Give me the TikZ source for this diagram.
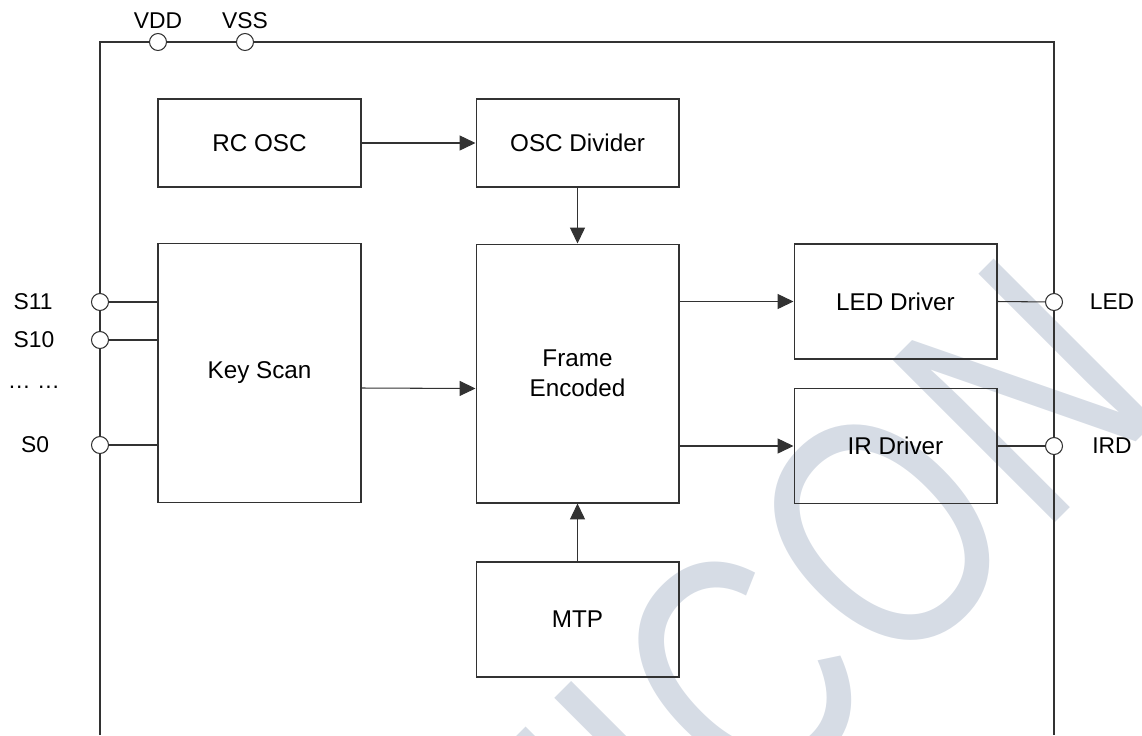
\documentclass[tikz,border=0pt]{standalone}
\usepackage{fontspec}
\setmainfont{Liberation Sans}
\usepackage{graphicx}
\usetikzlibrary{arrows.meta}
\definecolor{wmColor}{RGB}{214,220,229}
\definecolor{lineColor}{RGB}{50,50,50}

\begin{document}
\begin{tikzpicture}[x = 0.02cm, y = -0.02cm,
    every node/.style = {font = \fontsize{13}{17}\selectfont},
    blk/.style = {draw = lineColor, line width = 0.6pt, minimum width = 4.06cm, inner sep = 0pt, align = center,
                  font = \fontsize{13.8}{17}\selectfont},
    pin/.style = {circle, draw = lineColor, line width = 0.6pt, fill = white, minimum size = 0.34cm, inner sep = 0pt},
    wire/.style = {draw = lineColor, line width = 0.6pt},
    arr/.style = {wire, -{Triangle[length = 9pt, width = 8.5pt]}}]
            \useasboundingbox (0,0) rectangle (1142,735);

            % watermark
            \begin{scope}
                \clip (0,0) rectangle (1142,735);
                \foreach \ch/\px/\py [count = \i] in {N/571.9/1006.1, I/699.9/878.1, C/757.2/820.8, O/892.9/685.0, N/1040.7/537.3}
                    \node [rotate = 45, anchor = base west, inner sep = 0pt, text = wmColor,
                           font = \fontsize{190.1}{200}\selectfont] (wm\i) at (\px,\py) {\scalebox{0.767}[1]{\ch}};
            \end{scope}

            % chip outline
            \draw [wire] (100,735) -- (100,42) -- (1054,42) -- (1054,735);

            % pins
            \node [pin] (vdd) at (158,42) {};
            \node [pin] (vss) at (245,42) {};
            \node [pin] (s11) at (100,302) {};
            \node [pin] (s10) at (100,340) {};
            \node [pin] (s0) at (100,445) {};
            \node [pin] (led) at (1054,302) {};
            \node [pin] (ird) at (1054,446) {};

            \node (vddTxt) at (158,21) {VDD};
            \node (vssTxt) at (245,21) {VSS};
            \node (s11Txt) at (33,302) {S11};
            \node (s10Txt) at (34,340) {S10};
            \node (dotsTxt) at (34,387) {… …};
            \node (s0Txt) at (35,445) {S0};
            \node (ledTxt) at (1112,302) {LED};
            \node (irdTxt) at (1112,446) {IRD};

            % blocks
            \node [blk, minimum height = 1.76cm] (rcOsc) at (259.5,143) {RC OSC};
            \node [blk, minimum height = 1.76cm] (oscDiv) at (577.5,143) {OSC Divider};
            \node [blk, minimum height = 5.18cm] (keyScan) at (259.5,373) {Key Scan};
            \node [blk, minimum height = 5.18cm] (frame) at (577.5,373.5) {Frame\\Encoded};
            \node [blk, minimum height = 2.3cm] (mtp) at (577.5,619.5) {MTP};
            \node [blk, minimum height = 2.3cm] (ledDrv) at (895.5,301.5) {LED Driver};
            \node [blk, minimum height = 2.3cm] (irDrv) at (895.5,446) {IR Driver};

            % signals
            \draw [arr] (rcOsc) -- (oscDiv);
            \draw [arr] (oscDiv) -- (frame);
            \draw [arr] (mtp) -- (frame);
            \draw [arr] ([yshift = -0.3cm]keyScan.east) -- ([yshift = -0.3cm]frame.west);
            \draw [arr] (frame.east |- ledDrv.west) -- (ledDrv.west);
            \draw [arr] (frame.east |- irDrv.west) -- (irDrv.west);

            \draw [wire] (s11) -- (s11 -| keyScan.west);
            \draw [wire] (s10) -- (s10 -| keyScan.west);
            \draw [wire] (s0) -- (s0 -| keyScan.west);
            \draw [wire] (ledDrv.east) -- (led);
            \draw [wire] (irDrv.east) -- (ird);
\end{tikzpicture}
\end{document}
